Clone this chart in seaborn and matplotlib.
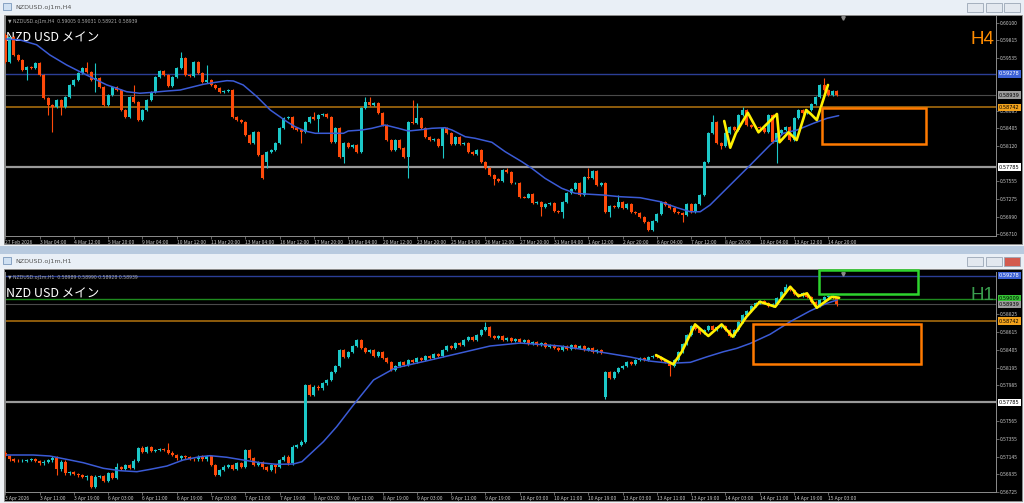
import numpy as np
import pandas as pd
import matplotlib
matplotlib.use("Agg")
import matplotlib.pyplot as plt
from matplotlib.patches import Rectangle
import matplotlib.transforms as mtransforms
import seaborn as sns

# ---------------- H4 panel data ----------------
h4_first_open = 0.59903
h4_close = [
    0.59470, 0.59871, 0.59582, 0.59502, 0.59341, 0.59394, 0.59373, 0.59449, 0.59261, 0.58887,
    0.58780, 0.58753, 0.58860, 0.58753, 0.58913, 0.59101, 0.59181, 0.59293, 0.59369, 0.59314,
    0.59181, 0.59213, 0.59073, 0.58780, 0.58940, 0.59073, 0.59020, 0.58700, 0.58592, 0.58913,
    0.58828, 0.58539, 0.58700, 0.58860, 0.58993, 0.59234, 0.59325, 0.59261, 0.59089, 0.59234,
    0.59369, 0.59529, 0.59261, 0.59245, 0.59474, 0.59288, 0.59154, 0.59181, 0.59101, 0.59048,
    0.58993, 0.59004, 0.59020, 0.58592, 0.58539, 0.58512, 0.58299, 0.58166, 0.58352, 0.57978,
    0.57604, 0.58026, 0.58058, 0.58166, 0.58406, 0.58571, 0.58592, 0.58406, 0.58379, 0.58347,
    0.58512, 0.58592, 0.58555, 0.58620, 0.58631, 0.58592, 0.58191, 0.58406, 0.57951, 0.58166,
    0.58111, 0.58138, 0.58031, 0.58727, 0.58823, 0.58780, 0.58807, 0.58647, 0.58459, 0.58219,
    0.58058, 0.58219, 0.58090, 0.57951, 0.58512, 0.58486, 0.58567, 0.58416, 0.58271, 0.58219,
    0.58235, 0.58127, 0.58406, 0.58331, 0.58150, 0.58271, 0.58150, 0.58170, 0.58031, 0.57989,
    0.58058, 0.57870, 0.57765, 0.57657, 0.57593, 0.57561, 0.57737, 0.57710, 0.57524, 0.57529,
    0.57309, 0.57296, 0.57348, 0.57203, 0.57229, 0.57149, 0.57187, 0.57203, 0.57080, 0.57064,
    0.57224, 0.57364, 0.57433, 0.57524, 0.57336, 0.57630, 0.57609, 0.57721, 0.57497, 0.57529,
    0.57068, 0.57160, 0.57144, 0.57229, 0.57128, 0.57192, 0.57068, 0.57048, 0.56988, 0.56908,
    0.56775, 0.56919, 0.57027, 0.57229, 0.57176, 0.57123, 0.57068, 0.57043, 0.57016, 0.57187,
    0.57068, 0.57187, 0.57336, 0.57870, 0.58326, 0.58512, 0.58166, 0.58122, 0.58326, 0.58432,
    0.58379, 0.58620, 0.58700, 0.58459, 0.58432, 0.58427, 0.58411, 0.58352, 0.58620, 0.58191,
    0.58326, 0.58379, 0.58427, 0.58219, 0.58567, 0.58700, 0.58652, 0.58700, 0.58796, 0.58913,
    0.59101, 0.59020, 0.58940, 0.59004, 0.58939,
]
h4_gap_open = {61: 0.57871}
h4_high = {0: 0.59930, 19: 0.59474, 21: 0.59454, 30: 0.59101, 41: 0.59630, 47: 0.59422,
           72: 0.58673, 84: 0.58913, 85: 0.58908, 95: 0.58860, 96: 0.58812, 117: 0.57769,
           136: 0.57769, 143: 0.57336, 165: 0.58620, 172: 0.58748, 191: 0.59208}
h4_low = {5: 0.59181, 10: 0.58619, 11: 0.58352, 13: 0.58619, 21: 0.58988, 61: 0.57769,
          69: 0.58170, 73: 0.58352, 79: 0.57850, 94: 0.57609, 102: 0.57930, 114: 0.57497,
          125: 0.56999, 130: 0.56967, 141: 0.56983, 158: 0.56903, 167: 0.58074, 180: 0.57850}
h4_ma_bar = [0.2, 3.4, 7.3, 10.4, 14.3, 17.4, 20.5, 23.7, 26.0, 28.3, 31.4, 34.5, 37.7, 40.8,
             43.9, 46.2, 48.5, 51.7, 53.2, 55.5, 58.7, 61.8, 65.7, 67.6, 69.9, 72.3, 75.4,
             78.9, 80.0, 83.2, 85.5, 88.6, 91.7, 94.0, 96.4, 99.5, 102.6, 104.2, 107.3, 109.6,
             113.5, 116.6, 120.5, 122.8, 125.9, 129.8, 132.9, 136.4, 139.5, 143.4, 148.1,
             152.8, 156.7, 159.8, 162.1, 164.4, 169.1, 173.8, 178.4, 181.5, 184.7, 188.5,
             191.7, 194.4]
h4_ma = [0.59839, 0.59823, 0.59746, 0.59582, 0.59422, 0.59314, 0.59208, 0.59101, 0.59048,
         0.58993, 0.58968, 0.58984, 0.59004, 0.59020, 0.59073, 0.59112, 0.59138, 0.59170,
         0.59165, 0.59101, 0.58913, 0.58700, 0.58512, 0.58432, 0.58363, 0.58326, 0.58326,
         0.58326, 0.58363, 0.58379, 0.58406, 0.58459, 0.58406, 0.58363, 0.58379, 0.58406,
         0.58416, 0.58379, 0.58271, 0.58246, 0.58182, 0.58031, 0.57870, 0.57765, 0.57604,
         0.57444, 0.57364, 0.57348, 0.57336, 0.57309, 0.57293, 0.57229, 0.57133, 0.57068,
         0.57068, 0.57176, 0.57497, 0.57818, 0.58138, 0.58326, 0.58379, 0.58486, 0.58567,
         0.58609]
h4_zz_bar = [167.7, 169.1, 170.4, 173.2, 175.7, 180.0, 180.6, 182.7, 184.6, 186.8, 187.9, 189.3, 191.9]
h4_zz = [0.58523, 0.58095, 0.58326, 0.58656, 0.58342, 0.58636, 0.58182, 0.58342, 0.58218,
         0.58700, 0.58636, 0.58539, 0.59101]
h4_box = (190.5, 214.8, 0.58155, 0.58727)
h4_xlabels = ["27 Feb 2026", "3 Mar 04:00", "4 Mar 12:00", "5 Mar 20:00", "9 Mar 04:00",
              "10 Mar 12:00", "11 Mar 20:00", "13 Mar 04:00", "16 Mar 12:00", "17 Mar 20:00",
              "19 Mar 04:00", "20 Mar 12:00", "23 Mar 20:00", "25 Mar 04:00", "26 Mar 12:00",
              "27 Mar 20:00", "31 Mar 04:00", "1 Apr 12:00", "2 Apr 20:00", "6 Apr 04:00",
              "7 Apr 12:00", "8 Apr 20:00", "10 Apr 04:00", "13 Apr 12:00", "14 Apr 20:00"]
h4_yticks = [0.60100, 0.59815, 0.59535, 0.58685, 0.58405, 0.58120, 0.57555, 0.57275, 0.56990, 0.56710]
h4_levels = [0.59278, 0.58939, 0.58742, 0.57785]

# ---------------- H1 panel data ----------------
h1_first_open = 0.57190
h1_close = [
    0.57151, 0.57112, 0.57095, 0.57092, 0.57095, 0.57104, 0.57115, 0.57092, 0.57065, 0.57084,
    0.57100, 0.57131, 0.56994, 0.57084, 0.56947, 0.56962, 0.56938, 0.56923, 0.56907, 0.56911,
    0.56789, 0.56907, 0.56915, 0.56856, 0.56947, 0.56895, 0.57018, 0.56997, 0.57045, 0.57013,
    0.57095, 0.57242, 0.57202, 0.57253, 0.57210, 0.57222, 0.57230, 0.57224, 0.57190, 0.57163,
    0.57124, 0.57151, 0.57136, 0.57115, 0.57112, 0.57143, 0.57112, 0.57151, 0.57045, 0.56927,
    0.56986, 0.57025, 0.57045, 0.56997, 0.57065, 0.57021, 0.57222, 0.57124, 0.57045, 0.57080,
    0.57018, 0.56986, 0.57045, 0.57025, 0.57104, 0.57143, 0.57065, 0.57261, 0.57281, 0.57320,
    0.57989, 0.57871, 0.57968, 0.57950, 0.58009, 0.58048, 0.58142, 0.58213, 0.58401, 0.58319,
    0.58378, 0.58449, 0.58519, 0.58425, 0.58378, 0.58401, 0.58331, 0.58378, 0.58307, 0.58260,
    0.58165, 0.58213, 0.58260, 0.58224, 0.58283, 0.58260, 0.58307, 0.58283, 0.58331, 0.58307,
    0.58354, 0.58331, 0.58401, 0.58449, 0.58425, 0.58484, 0.58460, 0.58519, 0.58555, 0.58519,
    0.58578, 0.58637, 0.58673, 0.58567, 0.58543, 0.58567, 0.58519, 0.58543, 0.58508, 0.58531,
    0.58496, 0.58519, 0.58472, 0.58496, 0.58460, 0.58484, 0.58437, 0.58460, 0.58425, 0.58401,
    0.58449, 0.58413, 0.58460, 0.58425, 0.58449, 0.58401, 0.58425, 0.58378, 0.58401, 0.58366,
    0.58142, 0.58071, 0.58142, 0.58189, 0.58213, 0.58260, 0.58236, 0.58283, 0.58307, 0.58283,
    0.58319, 0.58331, 0.58319, 0.58283, 0.58260, 0.58213, 0.58283, 0.58378, 0.58472, 0.58578,
    0.58685, 0.58649, 0.58602, 0.58637, 0.58685, 0.58637, 0.58673, 0.58685, 0.58637, 0.58567,
    0.58637, 0.58732, 0.58814, 0.58862, 0.58921, 0.58956, 0.58980, 0.58956, 0.58921, 0.58944,
    0.59015, 0.59086, 0.59145, 0.59109, 0.59062, 0.59039, 0.59074, 0.59027, 0.58968, 0.58921,
    0.58991, 0.59027, 0.59039, 0.59015, 0.58939,
]
h1_gap_open = {140: 0.57847}
h1_high = {26: 0.57072, 32: 0.57269, 38: 0.57301, 112: 0.58732, 182: 0.59180}
h1_low = {12: 0.56927, 19: 0.56868, 63: 0.56947, 140: 0.57824, 155: 0.58097}
h1_ma_bar = [0.3, 6.5, 10.4, 14.3, 18.2, 22.9, 26.8, 30.7, 33.8, 37.7, 41.5, 45.4, 47.8, 51.7,
             55.5, 59.4, 63.3, 67.2, 69.2, 74.2, 77.3, 81.2, 85.9, 90.9, 99.1, 106.1, 113.1,
             120.1, 129.4, 138.8, 145.8, 150.4, 155.1, 159.8, 163.7, 167.5, 170.6, 173.8,
             178.4, 183.1, 187.7, 191.6, 194.0]
h1_ma = [0.57163, 0.57163, 0.57151, 0.57112, 0.57072, 0.57006, 0.56978, 0.56966, 0.56994,
         0.57033, 0.57104, 0.57143, 0.57155, 0.57136, 0.57104, 0.57072, 0.57053, 0.57057,
         0.57084, 0.57320, 0.57497, 0.57753, 0.58048, 0.58189, 0.58283, 0.58366, 0.58449,
         0.58484, 0.58449, 0.58378, 0.58319, 0.58271, 0.58245, 0.58256, 0.58322, 0.58381,
         0.58421, 0.58480, 0.58587, 0.58736, 0.58862, 0.58952, 0.58991]
h1_zz_bar = [151.8, 155.8, 157.8, 160.9, 164.0, 167.1, 169.7, 172.9, 176.0, 179.6, 183.1,
             185.0, 187.0, 189.3, 192.8, 194.5]
h1_zz = [0.58342, 0.58233, 0.58381, 0.58704, 0.58567, 0.58704, 0.58559, 0.58795, 0.58971,
         0.58912, 0.59148, 0.59038, 0.59070, 0.58900, 0.59030, 0.59018]
h1_box = (174.4, 213.7, 0.58236, 0.58704)
h1_green_box = (189.9, 213.0, 0.59058, 0.59345)
h1_xlabels = ["3 Apr 2026", "3 Apr 11:00", "3 Apr 19:00", "6 Apr 03:00", "6 Apr 11:00",
              "6 Apr 19:00", "7 Apr 03:00", "7 Apr 11:00", "7 Apr 19:00", "8 Apr 03:00",
              "8 Apr 11:00", "8 Apr 19:00", "9 Apr 03:00", "9 Apr 11:00", "9 Apr 19:00",
              "10 Apr 03:00", "10 Apr 11:00", "10 Apr 19:00", "13 Apr 03:00", "13 Apr 11:00",
              "13 Apr 19:00", "14 Apr 03:00", "14 Apr 11:00", "14 Apr 19:00", "15 Apr 03:00"]
h1_yticks = [0.58825, 0.58615, 0.58405, 0.58195, 0.57985, 0.57565, 0.57355, 0.57145, 0.56935, 0.56725]
h1_levels = [0.59278, 0.59009, 0.58939, 0.58742, 0.57785]

# ---------------- style ----------------
UP, DOWN = "#1CC8C8", "#FF4A0A"
MA_COL = "#3B5BD6"
W, H = 1024, 503

sns.set_theme(style="dark", rc={"axes.facecolor": "black", "figure.facecolor": "#BFD0E3"})
plt.rcParams["font.family"] = ["Noto Sans CJK JP", "DejaVu Sans"]

fig = plt.figure(figsize=(W / 100, H / 100), dpi=100)


def px(x0, y0, x1, y1):
    return [x0 / W, 1 - y1 / H, (x1 - x0) / W, (y1 - y0) / H]


# window chrome drawn in pixel space
bg = fig.add_axes([0, 0, 1, 1], zorder=0)
bg.set_xlim(0, W)
bg.set_ylim(H, 0)
bg.axis("off")


def box(x0, y0, x1, y1, fc, ec="none", lw=0):
    bg.add_patch(Rectangle((x0, y0), x1 - x0, y1 - y0, facecolor=fc, edgecolor=ec, linewidth=lw))


def window(top, bottom, title, red_close):
    box(0, top, W, bottom, "#EEF1F5")
    box(0, top, W, top + 14, "#E9EFF6")
    box(3, top + 3, 11, top + 10, "#CFE0F2", "#7A97BC", 0.6)
    bg.text(15, top + 7, title, fontsize=4.6, color="#555555", va="center", family="DejaVu Sans")
    for k, x0 in enumerate([967, 986, 1004]):
        fc = "#D35A4E" if (red_close and k == 2) else "#E3E8EF"
        box(x0, top + 3, x0 + 16, top + 12, fc, "#9AA6B6", 0.6)
    box(4, top + 15, W - 2, bottom - 2, "black", "#8E8E8E", 0.6)


window(0, 246, "NZDUSD.oj1m,H4", False)
box(0, 246, W, 254, "#B8CADF")
window(254, 503, "NZDUSD.oj1m,H1", True)


def draw_panel(rect, ylim, opens0, closes, gaps, highs, lows, ma_x, ma_y, zz_x, zz_y,
               xlabels, yticks, levels, header, tf, tf_col):
    ax = fig.add_axes(px(*rect), zorder=2)
    ax.set_facecolor("black")
    n = len(closes)
    opens = [opens0] + closes[:-1]
    for i, o in gaps.items():
        opens[i] = o
    df = pd.DataFrame({"bar": np.arange(n), "open": opens, "close": closes})
    top = df[["open", "close"]].max(axis=1)
    bot = df[["open", "close"]].min(axis=1)
    df["high"] = [max(highs.get(i, top[i] + 0.00015), top[i]) for i in range(n)]
    df["low"] = [min(lows.get(i, bot[i] - 0.00015), bot[i]) for i in range(n)]
    col = np.where(df["close"] >= df["open"], UP, DOWN)

    # reference levels
    lv_style = {0.59278: ("#2B3E96", 1.0), 0.59009: ("#1E8A1E", 1.0), 0.58939: ("#4A4A4A", 0.8),
                0.58742: ("#8E5C0C", 1.4), 0.57785: ("#9A9A9A", 1.6)}
    for lv in levels:
        c, lw = lv_style[lv]
        ax.axhline(lv, color=c, lw=lw, zorder=1)

    ax.vlines(df["bar"], df["low"], df["high"], colors=col, lw=0.8, zorder=3)
    ax.bar(df["bar"], np.maximum(top - bot, 0.00003), bottom=bot, width=0.7,
           color=col, linewidth=0, zorder=4)

    sns.lineplot(x=ma_x, y=ma_y, ax=ax, color=MA_COL, lw=1.1, sort=False, estimator=None, zorder=5)
    sns.lineplot(x=zz_x, y=zz_y, ax=ax, color="#FFF000", lw=1.9, sort=False, estimator=None, zorder=6)

    ax.set_xlim(-0.07, 231.1)
    ax.set_ylim(*ylim)
    ax.set_xlabel("")
    ax.set_ylabel("")
    ax.grid(False)

    ax.set_xticks(np.arange(0, 8 * len(xlabels), 8))
    ax.set_xticklabels(xlabels, ha="left")
    ax.yaxis.tick_right()
    ax.set_yticks(yticks)
    ax.set_yticklabels([f"{v:.5f}" for v in yticks])
    ax.tick_params(axis="both", colors="#8C8C8C", labelcolor="#C8C8C8", labelsize=3.6,
                   length=2, width=0.5, pad=1, bottom=True, right=True, left=False)
    ax.spines["top"].set_visible(False)
    for side in ["bottom", "right", "left"]:
        ax.spines[side].set_color("#8C8C8C")
        ax.spines[side].set_linewidth(0.7)

    # price tags on the right axis
    tag = {0.59278: ("#3D62D6", "white"), 0.59009: ("#35C435", "black"), 0.58939: ("#9C9C9C", "black"),
           0.58742: ("#F2A21C", "black"), 0.57785: ("white", "black")}
    tr = mtransforms.blended_transform_factory(ax.transAxes, ax.transData)
    for lv in levels:
        fc, tc = tag[lv]
        ax.text(1.003, lv, f"{lv:.5f}", transform=tr, fontsize=3.6, color=tc, va="center",
                ha="left", family="DejaVu Sans",
                bbox=dict(boxstyle="square,pad=0.25", fc=fc, ec="none"), zorder=10, clip_on=False)

    ax.text(0.003, 0.985, header, transform=ax.transAxes, fontsize=3.3, color="#A8A8A8",
            va="top", family="DejaVu Sans")
    ax.text(0.0015, 0.93, "NZD USD メイン", transform=ax.transAxes, fontsize=9, color="white",
            va="top", family=["Noto Sans CJK JP", "DejaVu Sans"])
    ax.text(0.998, 0.93, tf, transform=ax.transAxes, fontsize=13.5, color=tf_col, va="top",
            ha="right", family="Liberation Sans")
    ax.plot([0.846], [0.99], marker="v", ms=2.5, color="#8A8A8A", transform=ax.transAxes,
            clip_on=False)
    return ax


ax4 = draw_panel((5, 16, 996, 236), (0.56679, 0.60207), h4_first_open, h4_close, h4_gap_open,
                 h4_high, h4_low, h4_ma_bar, h4_ma, h4_zz_bar, h4_zz, h4_xlabels, h4_yticks,
                 h4_levels, "▼ NZDUSD.oj1m,H4  0.59005 0.59031 0.58921 0.58939", "H4", "#FF8C00")
x0, x1, y0, y1 = h4_box
ax4.add_patch(Rectangle((x0, y0), x1 - x0, y1 - y0, fill=False, edgecolor="#FF7A00", lw=1.8, zorder=7))

ax1 = draw_panel((5, 272, 996, 492.3), (0.56723, 0.59322), h1_first_open, h1_close, h1_gap_open,
                 h1_high, h1_low, h1_ma_bar, h1_ma, h1_zz_bar, h1_zz, h1_xlabels, h1_yticks,
                 h1_levels, "▼ NZDUSD.oj1m,H1  0.58989 0.58990 0.58928 0.58939", "H1", "#3A9E4E")
x0, x1, y0, y1 = h1_box
ax1.add_patch(Rectangle((x0, y0), x1 - x0, y1 - y0, fill=False, edgecolor="#FF7A00", lw=1.8, zorder=7))
x0, x1, y0, y1 = h1_green_box
ax1.add_patch(Rectangle((x0, y0), x1 - x0, y1 - y0, fill=False, edgecolor="#2ED42E", lw=1.8,
                        zorder=7, clip_on=False))

fig.savefig("out.png", dpi=100)
